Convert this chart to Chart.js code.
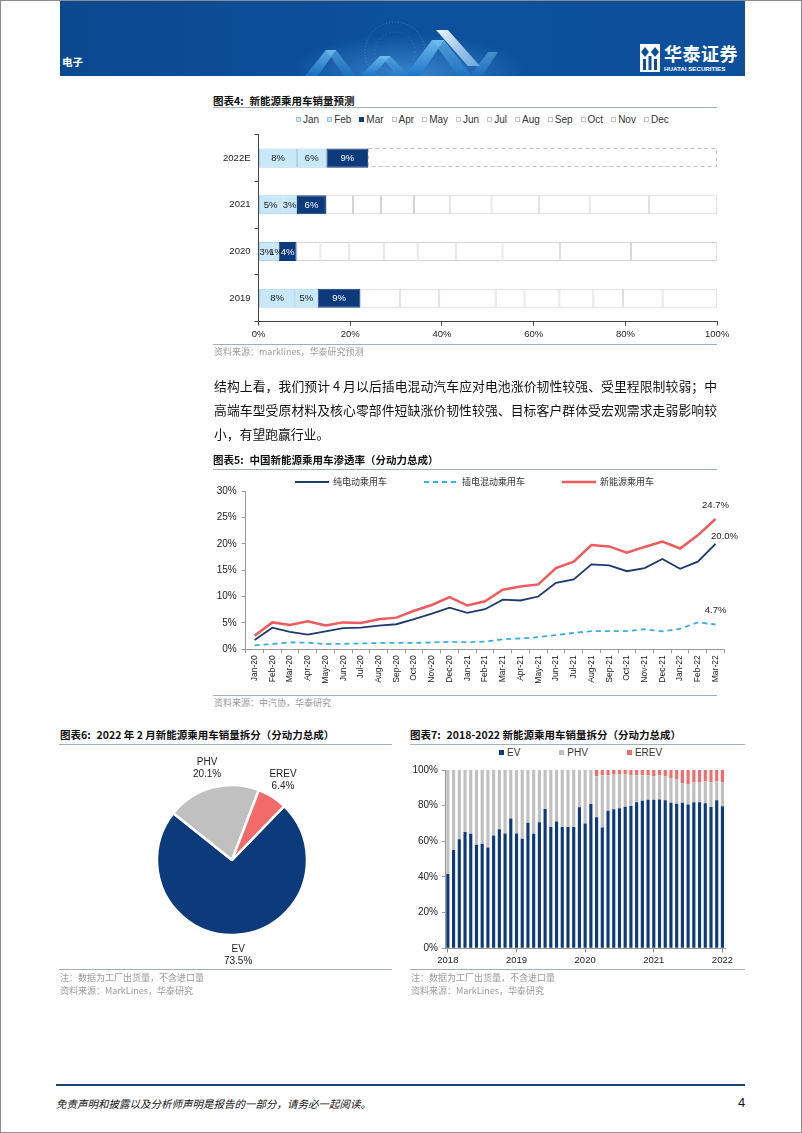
<!DOCTYPE html>
<html lang="zh">
<head>
<meta charset="utf-8">
<title>新能源乘用车</title>
<script src="https://cdn.jsdelivr.net/npm/chart.js@4.4.1/dist/chart.umd.min.js"></script>
<style>
  html, body { margin: 0; padding: 0; background: #fff; }
  #page { position: relative; width: 802px; height: 1133px; overflow: hidden;
          font-family: "Noto Sans CJK SC", "Liberation Sans", sans-serif; color: #111; }
  #frame { position: absolute; left: 0; top: 0; width: 802px; height: 1133px; box-sizing: border-box;
           border: 1px solid #8c8c8c; pointer-events: none; }
  .abs { position: absolute; }
  canvas { position: absolute; }
  .title { position: absolute; font-size: 10.5px; font-weight: bold; white-space: nowrap; line-height: 14px; }
  .title span { margin-right: 6px; }
  .rule { position: absolute; height: 0; border-top: 1.5px solid #9fb0c3; }
  .src { position: absolute; font-size: 9px; color: #9a9a9a; white-space: nowrap; line-height: 12px; }
  .para { position: absolute; left: 214px; top: 374px; width: 503px; }
  .para div { font-size: 12.8px; line-height: 24px; height: 24px; text-align: justify; text-align-last: justify; }
  .para div.last { text-align-last: left; }
  .legend { position: absolute; display: flex; align-items: center; white-space: nowrap;
            font-family: "Liberation Sans", sans-serif; font-size: 10px; color: #333; }
  .legend .item { display: flex; align-items: center; }
  .legend .box { display: inline-block; width: 5px; height: 5px; box-sizing: border-box; margin-right: 2px; }
</style>
</head>
<body>
<div id="page">

  <!-- 页眉 -->
  <div class="abs" style="left:60px;top:0;width:685px;height:76px;background:linear-gradient(90deg,#0a4990 0%,#0d509c 50%,#0d4f9b 100%);overflow:hidden">
    <svg width="685" height="76" viewBox="0 0 685 76" style="position:absolute;left:0;top:0">
      <defs>
        <radialGradient id="glow" cx="0.5" cy="0.7" r="0.5">
          <stop offset="0" stop-color="#5aaef0" stop-opacity="0.55"/>
          <stop offset="1" stop-color="#5aaef0" stop-opacity="0"/>
        </radialGradient>
        <linearGradient id="blueA" x1="0" y1="0" x2="0" y2="1">
          <stop offset="0" stop-color="#79c8f7"/>
          <stop offset="1" stop-color="#1c74c9"/>
        </linearGradient>
        <linearGradient id="whiteA" x1="0" y1="0" x2="1" y2="1">
          <stop offset="0" stop-color="#ffffff" stop-opacity="0.95"/>
          <stop offset="1" stop-color="#9fd3f7" stop-opacity="0.6"/>
        </linearGradient>
      </defs>
      <ellipse cx="350" cy="58" rx="120" ry="40" fill="url(#glow)"/>
      <circle cx="335" cy="52" r="30" fill="none" stroke="#9ccff5" stroke-opacity="0.35" stroke-dasharray="1 2"/>
      <circle cx="335" cy="52" r="20" fill="none" stroke="#9ccff5" stroke-opacity="0.25" stroke-dasharray="1 3"/>
      <polygon points="245,76 266,50 276,50 258,76" fill="url(#blueA)" opacity="0.75"/>
      <polygon points="266,50 276,50 296,76 284,76" fill="url(#blueA)" opacity="0.5"/>
      <polygon points="300,76 320,56 330,56 313,76" fill="url(#blueA)" opacity="0.8"/>
      <polygon points="320,56 330,56 350,76 338,76" fill="url(#blueA)" opacity="0.55"/>
      <polygon points="345,76 372,40 384,40 360,76" fill="url(#blueA)" opacity="0.85"/>
      <polygon points="372,40 384,40 412,76 398,76" fill="url(#blueA)" opacity="0.6"/>
      <polygon points="376,30 388,30 420,66 408,66" fill="url(#whiteA)"/>
      <polygon points="410,76 428,52 438,52 422,76" fill="url(#blueA)" opacity="0.5"/>
    </svg>
    <div class="abs" style="left:2px;top:54px;font-size:10.5px;font-weight:bold;color:#fff">电子</div>
    <svg width="20" height="28" viewBox="0 0 20 28" style="position:absolute;left:580px;top:44px">
      <rect x="0" y="0" width="20" height="28" fill="#fff"/>
      <polygon points="5,3 9,8 5,13 1,8" fill="#0d4f9b"/>
      <polygon points="15,3 19,8 15,13 11,8" fill="#0d4f9b"/>
      <rect x="3" y="15" width="3" height="11" fill="#0d4f9b"/>
      <rect x="8.5" y="12" width="3" height="14" fill="#0d4f9b"/>
      <rect x="14" y="15" width="3" height="11" fill="#0d4f9b"/>
    </svg>
    <div class="abs" style="left:604px;top:43px;font-size:18px;line-height:20px;font-weight:bold;color:#fff;letter-spacing:0.5px">华泰证券</div>
    <div class="abs" style="left:604px;top:65px;font-size:6.2px;line-height:7px;font-weight:bold;color:#fff;font-family:'Liberation Sans',sans-serif">HUATAI SECURITIES</div>
  </div>

  <!-- 图表4 -->
  <div class="title" style="left:213px;top:94px"><span>图表4:</span>新能源乘用车销量预测</div>
  <div class="rule" style="left:213px;top:107px;width:504px"></div>
  <div class="legend" id="legend4" style="left:296px;top:114px"></div>
  <canvas id="c4" width="535" height="225" style="left:200px;top:125px;width:535px;height:225px"></canvas>
  <div class="rule" style="left:213px;top:344px;width:504px"></div>
  <div class="src" style="left:214px;top:346px">资料来源：marklines，华泰研究预测</div>

  <!-- 正文 -->
  <div class="para">
    <div>结构上看，我们预计 4 月以后插电混动汽车应对电池涨价韧性较强、受里程限制较弱；中</div>
    <div>高端车型受原材料及核心零部件短缺涨价韧性较强、目标客户群体受宏观需求走弱影响较</div>
    <div class="last">小，有望跑赢行业。</div>
  </div>

  <!-- 图表5 -->
  <div class="title" style="left:213px;top:453px"><span>图表5:</span>中国新能源乘用车渗透率（分动力总成）</div>
  <div class="rule" style="left:213px;top:469px;width:504px"></div>
  <div class="legend" id="legend5" style="left:295px;top:475px;gap:37px;font-family:'Noto Sans CJK SC',sans-serif;font-size:9px"></div>
  <canvas id="c5" width="545" height="215" style="left:200px;top:480px;width:545px;height:215px"></canvas>
  <div class="rule" style="left:213px;top:695px;width:504px"></div>
  <div class="src" style="left:214px;top:697px">资料来源：中汽协，华泰研究</div>

  <!-- 图表6 -->
  <div class="title" style="left:60px;top:728px"><span>图表6:</span>2022 年 2 月新能源乘用车销量拆分（分动力总成）</div>
  <div class="rule" style="left:59px;top:744px;width:333px"></div>
  <canvas id="c6" width="240" height="240" style="left:111.7px;top:740px;width:240px;height:240px"></canvas>
  <div class="rule" style="left:59px;top:969px;width:333px"></div>
  <div class="src" style="left:60px;top:972px">注：数据为工厂出货量，不含进口量</div>
  <div class="src" style="left:60px;top:985px">资料来源：MarkLines，华泰研究</div>

  <!-- 图表7 -->
  <div class="title" style="left:410px;top:728px"><span>图表7:</span>2018-2022 新能源乘用车销量拆分（分动力总成）</div>
  <div class="rule" style="left:410px;top:744px;width:335px"></div>
  <div class="legend" id="legend7" style="left:499px;top:747px;gap:39px"></div>
  <canvas id="c7" width="340" height="210" style="left:405px;top:760px;width:340px;height:210px"></canvas>
  <div class="rule" style="left:410px;top:969px;width:335px"></div>
  <div class="src" style="left:411px;top:972px">注：数据为工厂出货量，不含进口量</div>
  <div class="src" style="left:411px;top:985px">资料来源：MarkLines，华泰研究</div>

  <!-- 页脚 -->
  <div class="abs" style="left:56px;top:1084px;width:689px;height:2px;background:#1d3f7a"></div>
  <div class="abs" style="left:56px;top:1096px;font-size:10.5px;font-style:italic;color:#111;white-space:nowrap">免责声明和披露以及分析师声明是报告的一部分，请务必一起阅读。</div>
  <div class="abs" style="left:738px;top:1095px;font-size:13px;color:#111;font-family:'Liberation Sans',sans-serif">4</div>

  <div id="frame"></div>
</div>

<script>
// ---------- 图表4：新能源乘用车销量预测（各月占全年比例，%） ----------
const years4 = ['2022E', '2021', '2020', '2019'];
const months4 = ['Jan', 'Feb', 'Mar', 'Apr', 'May', 'Jun', 'Jul', 'Aug', 'Sep', 'Oct', 'Nov', 'Dec'];
const share2022E = [8.4, 6.4, 9.1, null, null, null, null, null, null, null, null, null];
const share2021 = [5.2, 3.2, 6.3, 5.9, 6.1, 7.2, 7.8, 9.1, 10.4, 11.0, 12.9, 14.9];
const share2020 = [3.3, 1.1, 3.9, 5.2, 6.3, 7.5, 7.4, 8.3, 10.2, 12.5, 15.5, 18.8];
const share2019 = [8.0, 4.9, 9.3, 8.6, 8.6, 12.3, 6.3, 7.6, 7.4, 6.5, 8.6, 11.9];
const rest2022E = [76.1, null, null, null];   // 2022E 4-12月（虚线框）
const ticks4 = [0, 20, 40, 60, 80, 100];

// ---------- 图表5：中国新能源乘用车渗透率（%） ----------
const months5 = ['Jan-20', 'Feb-20', 'Mar-20', 'Apr-20', 'May-20', 'Jun-20', 'Jul-20', 'Aug-20', 'Sep-20',
  'Oct-20', 'Nov-20', 'Dec-20', 'Jan-21', 'Feb-21', 'Mar-21', 'Apr-21', 'May-21', 'Jun-21', 'Jul-21',
  'Aug-21', 'Sep-21', 'Oct-21', 'Nov-21', 'Dec-21', 'Jan-22', 'Feb-22', 'Mar-22'];
const evRate = [1.75, 4.1, 3.3, 2.8, 3.4, 4.0, 4.1, 4.5, 4.75, 5.7, 6.75, 7.9, 6.9, 7.6,
  9.4, 9.25, 10.0, 12.6, 13.25, 16.1, 15.9, 14.8, 15.4, 17.1, 15.25, 16.6, 20.0];
const phevRate = [0.75, 1.0, 1.3, 1.25, 1.0, 1.05, 1.1, 1.2, 1.2, 1.2, 1.3, 1.4, 1.35, 1.45,
  1.9, 2.05, 2.3, 2.7, 3.1, 3.45, 3.45, 3.45, 3.8, 3.4, 3.9, 5.1, 4.7];
const nevRate = [2.55, 5.1, 4.6, 5.3, 4.5, 5.1, 5.0, 5.7, 6.0, 7.3, 8.4, 9.9, 8.3, 9.1,
  11.3, 11.9, 12.3, 15.4, 16.6, 19.75, 19.5, 18.3, 19.4, 20.4, 19.1, 21.6, 24.7];
const ticks5 = [0, 5, 10, 15, 20, 25, 30];

// ---------- 图表6：2022年2月销量拆分（%） ----------
const types6 = ['EV', 'PHV', 'EREV'];
const share6 = [73.5, 20.1, 6.4];

// ---------- 图表7：2018-2022 销量拆分（%） ----------
const months7 = [
  '2018-01', '2018-02', '2018-03', '2018-04', '2018-05', '2018-06', '2018-07', '2018-08', '2018-09', '2018-10', '2018-11', '2018-12',
  '2019-01', '2019-02', '2019-03', '2019-04', '2019-05', '2019-06', '2019-07', '2019-08', '2019-09', '2019-10', '2019-11', '2019-12',
  '2020-01', '2020-02', '2020-03', '2020-04', '2020-05', '2020-06', '2020-07', '2020-08', '2020-09', '2020-10', '2020-11', '2020-12',
  '2021-01', '2021-02', '2021-03', '2021-04', '2021-05', '2021-06', '2021-07', '2021-08', '2021-09', '2021-10', '2021-11', '2021-12',
  '2022-01'];
const ev7 = [41.7, 55.2, 61.1, 65.2, 64.3, 58.1, 58.7, 56.5, 63.3, 66.7, 64.4, 72.8,
  64.4, 61.5, 70.4, 64.3, 70.7, 78.1, 68.0, 71.1, 68.0, 68.1, 68.1, 79.1,
  70.0, 81.0, 73.5, 67.8, 77.2, 78.0, 78.5, 79.4, 79.8, 81.9, 82.8, 83.3,
  83.3, 83.5, 83.1, 81.7, 81.1, 81.7, 80.6, 81.9, 81.9, 81.3, 79.3, 83.1,
  79.6];
const phv7 = [58.3, 44.8, 38.9, 34.8, 35.7, 41.9, 41.3, 43.5, 36.7, 33.3, 35.6, 27.2,
  35.6, 38.5, 29.6, 35.7, 29.3, 21.9, 32.0, 28.9, 32.0, 31.9, 31.9, 20.9,
  30.0, 19.0, 23.0, 29.2, 19.8, 19.5, 19.0, 18.1, 17.2, 15.1, 14.2, 13.7,
  13.2, 13.5, 13.4, 13.8, 13.9, 10.8, 11.4, 11.1, 11.1, 12.2, 13.7, 10.4,
  13.4];
const erev7 = [0, 0, 0, 0, 0, 0, 0, 0, 0, 0, 0, 0,
  0, 0, 0, 0, 0, 0, 0, 0, 0, 0, 0, 0,
  0, 0, 3.5, 3.0, 3.0, 2.5, 2.5, 2.5, 3.0, 3.0, 3.0, 3.0,
  3.5, 3.0, 3.5, 4.5, 5.0, 7.5, 8.0, 7.0, 7.0, 6.5, 7.0, 6.5,
  7.0];
const ticks7 = [0, 20, 40, 60, 80, 100];

// 颜色
const navy = '#0d3a7a';
const lightBlue = '#c8e7f7';
const grey = '#c0c0c0';
const red = '#f26a6a';

Chart.defaults.font.family = '"Liberation Sans", Arial, sans-serif';
Chart.defaults.font.size = 10;
Chart.defaults.color = '#222';
Chart.defaults.animation = false;
Chart.defaults.responsive = false;
Chart.defaults.devicePixelRatio = 1;
Chart.defaults.plugins.legend.display = false;
Chart.defaults.plugins.tooltip.enabled = false;

const pct = v => v + '%';
const setTicks = list => scale => { scale.ticks = list.map(v => ({ value: v })); };

// ---------------- 图表4 ----------------
const fill4 = months4.map((m, i) => i < 2 ? lightBlue : (i === 2 ? navy : '#ffffff'));
const border4 = months4.map((m, i) => i < 2 ? '#a8d3ea' : (i === 2 ? navy : '#d4d4d4'));
const rows4 = [share2022E, share2021, share2020, share2019];

const legend4 = document.getElementById('legend4');
months4.forEach((m, i) => {
  const it = document.createElement('div');
  it.className = 'item';
  it.style.marginRight = i < months4.length - 1 ? '8px' : '0';
  it.innerHTML = '<span class="box" style="background:' + fill4[i] + ';border:1px solid ' +
    (i === 2 ? navy : (i < 2 ? '#9cc6dc' : '#c4c4c4')) + '"></span>' + m;
  legend4.appendChild(it);
});

const segLabels = {
  id: 'segLabels',
  afterDatasetsDraw(chart) {
    const ctx = chart.ctx;
    ctx.save();
    ctx.font = '9.5px "Liberation Sans"';
    ctx.textAlign = 'center';
    ctx.textBaseline = 'middle';
    [0, 1, 2].forEach(di => {
      chart.getDatasetMeta(di).data.forEach((bar, i) => {
        const v = chart.data.datasets[di].data[i];
        if (v == null) return;
        ctx.fillStyle = di === 2 ? '#ffffff' : '#1a1a1a';
        ctx.fillText(Math.round(v) + '%', (bar.x + bar.base) / 2, bar.y + 0.5);
      });
    });
    ctx.restore();
  }
};

const dashedRest = {
  id: 'dashedRest',
  afterDatasetsDraw(chart) {
    const di = chart.data.datasets.length - 1;
    const ctx = chart.ctx;
    ctx.save();
    ctx.setLineDash([4, 3]);
    ctx.strokeStyle = '#c2c2c2';
    ctx.lineWidth = 1;
    chart.getDatasetMeta(di).data.forEach((bar, i) => {
      if (chart.data.datasets[di].data[i] == null) return;
      const h = bar.height;
      ctx.strokeRect(Math.round(bar.base) + 0.5, Math.round(bar.y - h / 2) + 0.5,
        Math.round(bar.x - bar.base) - 1, Math.round(h) - 1);
    });
    ctx.restore();
  }
};

const datasets4 = months4.map((m, i) => ({
  label: m,
  data: rows4.map(r => r[i]),
  backgroundColor: fill4[i],
  borderColor: border4[i],
  borderWidth: 1,
  borderSkipped: false
}));
datasets4.push({ label: 'rest', data: rest2022E, backgroundColor: 'rgba(0,0,0,0)', borderWidth: 0 });

new Chart(document.getElementById('c4'), {
  type: 'bar',
  data: { labels: years4, datasets: datasets4 },
  options: {
    indexAxis: 'y',
    barPercentage: 0.41,
    categoryPercentage: 1,
    layout: { padding: { top: 6, right: 17.8, bottom: 8.4, left: 0 } },
    scales: {
      x: {
        stacked: true, min: 0, max: 100,
        afterBuildTicks: setTicks(ticks4),
        ticks: { callback: pct, font: { size: 9.5 }, padding: 3 },
        grid: { drawOnChartArea: false, tickLength: 4, color: '#444' },
        border: { color: '#444' },
        afterFit: s => { s.height = 20; }
      },
      y: {
        stacked: true,
        ticks: { font: { size: 9.5 }, padding: 4 },
        grid: { drawOnChartArea: false, tickLength: 4, offset: true, color: '#444' },
        border: { color: '#444' },
        afterFit: s => { s.width = 58.5; }
      }
    }
  },
  plugins: [segLabels, dashedRest]
});

// ---------------- 图表5 ----------------
const series5 = [
  { label: '纯电动乘用车', data: evRate, color: '#1d3a6e', width: 1.8, dash: [], off: [9, -7] },
  { label: '插电混动乘用车', data: phevRate, color: '#3aaee2', width: 1.8, dash: [5, 4], off: [0, -14] },
  { label: '新能源乘用车', data: nevRate, color: '#f05a5e', width: 2.5, dash: [], off: [0, -14] }
];

const legend5 = document.getElementById('legend5');
series5.forEach(s => {
  const it = document.createElement('div');
  it.className = 'item';
  it.innerHTML = '<svg width="34" height="6" style="margin-right:4px"><line x1="0" y1="3" x2="34" y2="3" stroke="' +
    s.color + '" stroke-width="' + s.width + '" stroke-dasharray="' + (s.dash.length ? s.dash.join(' ') : 'none') +
    '"/></svg>' + s.label;
  legend5.appendChild(it);
});

const endLabels = {
  id: 'endLabels',
  afterDatasetsDraw(chart) {
    const ctx = chart.ctx;
    ctx.save();
    ctx.font = '9.5px "Liberation Sans"';
    ctx.fillStyle = '#222';
    ctx.textAlign = 'center';
    ctx.textBaseline = 'middle';
    chart.data.datasets.forEach((ds, di) => {
      const pts = chart.getDatasetMeta(di).data;
      const p = pts[pts.length - 1];
      const v = ds.data[ds.data.length - 1];
      const off = series5[di].off;
      ctx.fillText(v.toFixed(1) + '%', p.x + off[0], p.y + off[1]);
    });
    ctx.restore();
  }
};

new Chart(document.getElementById('c5'), {
  type: 'line',
  data: {
    labels: months5,
    datasets: series5.map(s => ({
      label: s.label, data: s.data, borderColor: s.color, borderWidth: s.width,
      borderDash: s.dash, pointRadius: 0, tension: 0, fill: false
    }))
  },
  options: {
    layout: { padding: { top: 9.3, right: 20.6, bottom: 5.7, left: 0 } },
    scales: {
      x: {
        offset: true,
        ticks: { autoSkip: false, maxRotation: 90, minRotation: 90, font: { size: 8.5 }, padding: 2 },
        grid: { offset: true, drawOnChartArea: false, tickLength: 4, color: '#999' },
        border: { color: '#999' },
        afterFit: s => { s.height = 40; }
      },
      y: {
        min: 0, max: 30,
        afterBuildTicks: setTicks(ticks5),
        ticks: { callback: pct, padding: 5 },
        grid: { drawOnChartArea: false, tickLength: 4, color: '#999' },
        border: { color: '#999' },
        afterFit: s => { s.width = 45.7; }
      }
    }
  },
  plugins: [endLabels]
});

// ---------------- 图表6 ----------------
const pieLabels = {
  id: 'pieLabels',
  afterDatasetsDraw(chart) {
    const ctx = chart.ctx;
    ctx.save();
    ctx.font = '10px "Liberation Sans"';
    ctx.fillStyle = '#222';
    ctx.textAlign = 'center';
    ctx.textBaseline = 'middle';
    chart.getDatasetMeta(0).data.forEach((arc, i) => {
      const p = arc.getProps(['x', 'y', 'startAngle', 'endAngle', 'outerRadius'], true);
      const mid = (p.startAngle + p.endAngle) / 2;
      const r = p.outerRadius + 20;
      const cx = p.x + Math.cos(mid) * r;
      const cy = p.y + Math.sin(mid) * r;
      ctx.fillText(chart.data.labels[i], cx, cy - 6);
      ctx.fillText(chart.data.datasets[0].data[i].toFixed(1) + '%', cx, cy + 6);
    });
    ctx.restore();
  }
};

new Chart(document.getElementById('c6'), {
  type: 'pie',
  data: {
    labels: types6,
    datasets: [{
      data: share6,
      backgroundColor: [navy, grey, red],
      borderColor: '#ffffff',
      borderWidth: 2.5,
      radius: 75
    }]
  },
  options: { rotation: 44 },
  plugins: [pieLabels]
});

// ---------------- 图表7 ----------------
const series7 = [
  { label: 'EV', data: ev7, color: navy },
  { label: 'PHV', data: phv7, color: grey },
  { label: 'EREV', data: erev7, color: red }
];

const legend7 = document.getElementById('legend7');
series7.forEach(s => {
  const it = document.createElement('div');
  it.className = 'item';
  it.innerHTML = '<span class="box" style="background:' + s.color + ';margin-right:3px"></span>' + s.label;
  legend7.appendChild(it);
});

new Chart(document.getElementById('c7'), {
  type: 'bar',
  data: {
    labels: months7,
    datasets: series7.map(s => ({ label: s.label, data: s.data, backgroundColor: s.color, borderWidth: 0 }))
  },
  options: {
    barPercentage: 0.55,
    categoryPercentage: 1,
    layout: { padding: { top: 8.3, right: 19.7, bottom: 3.7, left: 0 } },
    scales: {
      x: {
        stacked: true,
        ticks: {
          autoSkip: false, maxRotation: 0, minRotation: 0, font: { size: 9.5 }, padding: 2,
          callback: (v, i) => months7[i].endsWith('-01') ? months7[i].slice(0, 4) : ''
        },
        grid: {
          offset: false, drawOnChartArea: false, tickLength: 4,
          color: c => (months7[c.index] || '').endsWith('-01') ? '#888' : 'rgba(0,0,0,0)'
        },
        border: { color: '#999' },
        afterFit: s => { s.height = 18; }
      },
      y: {
        stacked: true, min: 0, max: 100,
        afterBuildTicks: setTicks(ticks7),
        ticks: { callback: pct, padding: 4 },
        grid: { drawOnChartArea: false, tickLength: 3, color: '#999' },
        border: { color: '#999' },
        afterFit: s => { s.width = 40; }
      }
    }
  }
});
</script>
</body>
</html>
